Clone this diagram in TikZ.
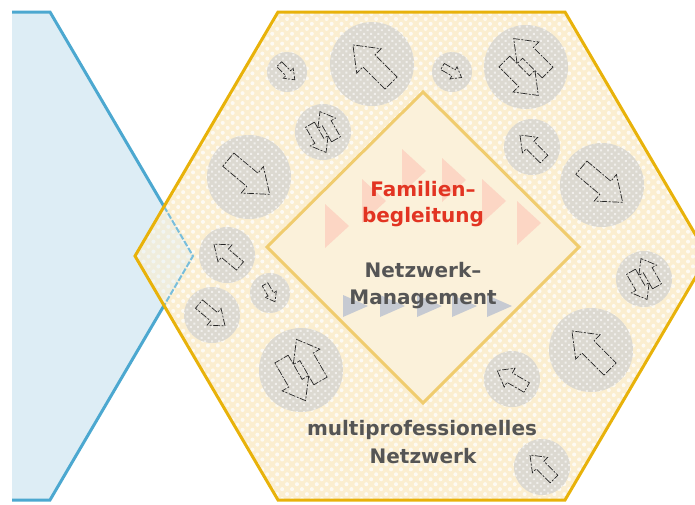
\documentclass[tikz,border=0pt]{standalone}
\usepackage{fontspec}
\setmainfont{DejaVu Sans}
\usetikzlibrary{patterns.meta}

\definecolor{hexgold}{RGB}{232,178,10}
\definecolor{hexcream}{RGB}{251,238,208}
\definecolor{diamcream}{RGB}{251,241,218}
\definecolor{diamgold}{RGB}{240,204,110}
\definecolor{bluefill}{RGB}{221,237,245}
\definecolor{blueline}{RGB}{76,168,208}
\definecolor{bluedash}{RGB}{120,190,220}
\definecolor{spotgrey}{RGB}{220,217,209}
\definecolor{pinktri}{RGB}{252,214,196}
\definecolor{greytri}{RGB}{198,202,210}
\definecolor{famred}{RGB}{226,52,34}
\definecolor{textgrey}{RGB}{85,85,85}

\tikzset{
  hexdots/.style={fill opacity=0.75, pattern={Dots[distance=7pt,radius=2pt,angle=45]}, pattern color=white},
  spotdots/.style={fill opacity=0.6, pattern={Dots[distance=5pt,radius=1.4pt,angle=45]}, pattern color=white},
  spot/.style={fill=spotgrey, postaction={spotdots}},
  arrowline/.style={draw=black!85, line width=0.7pt, dash pattern=on 7pt off 1.5pt on 2pt off 1.5pt},
  label/.style={inner sep=0pt, anchor=base, font=\bfseries\fontsize{20}{24}\selectfont},
  pics/barrow/.style={code={
    \draw[arrowline] (-0.5,-0.16) -- (0.08,-0.16) -- (0.08,-0.32) -- (0.5,0) -- (0.08,0.32) -- (0.08,0.16) -- (-0.5,0.16) -- cycle;
  }},
  pics/swaparrow/.style={code={
    \begin{scope}[shift={(0.08,0.19)},scale=0.8]
      \draw[arrowline] (-0.5,-0.16) -- (0.08,-0.16) -- (0.08,-0.32) -- (0.5,0) -- (0.08,0.32) -- (0.08,0.16) -- (-0.5,0.16) -- cycle;
    \end{scope}
    \begin{scope}[shift={(-0.08,-0.19)},rotate=180,scale=0.8]
      \draw[arrowline] (-0.5,-0.16) -- (0.08,-0.16) -- (0.08,-0.32) -- (0.5,0) -- (0.08,0.32) -- (0.08,0.16) -- (-0.5,0.16) -- cycle;
    \end{scope}
  }},
}

\begin{document}
\begin{tikzpicture}[x=1pt,y=-1pt]
   \useasboundingbox (0,0) rectangle (695,504);
   \clip (0,0) rectangle (695,504);

   % left (blue) hexagon, cut at the margin
   \fill[bluefill] (12,12) -- (50,12) -- (193,256) -- (50,500) -- (12,500) -- cycle;
   \draw[blueline,line width=3pt] (12,12) -- (50,12) -- (164,206.5);
   \draw[blueline,line width=3pt] (164,305.5) -- (50,500) -- (12,500);

   % network hexagon
   \coordinate (hexW) at (135,256);
   \coordinate (hexNW) at (278,12);
   \coordinate (hexNE) at (565,12);
   \coordinate (hexE) at (708,256);
   \coordinate (hexSE) at (565,500);
   \coordinate (hexSW) at (278,500);
   \path[fill=hexcream, postaction={hexdots}] (hexW) -- (hexNW) -- (hexNE) -- (hexE) -- (hexSE) -- (hexSW) -- cycle;

   % overlap with the blue hexagon
   \fill[bluefill,opacity=0.35] (hexW) -- (164,206.5) -- (193,256) -- (164,305.5) -- cycle;
   \draw[bluedash,line width=2pt,dash pattern=on 6pt off 2pt] (164,206.5) -- (193,256) -- (164,305.5);

   \draw[hexgold,line width=3pt,line join=miter] (hexW) -- (hexNW) -- (hexNE) -- (hexE) -- (hexSE) -- (hexSW) -- cycle;

   % partners
   \foreach \cx/\cy/\r in {287/72/20, 372/64/42, 452/72/20, 526/67/42, 323/132/28, 532/147/28,
                          249/177/42, 602/185/42, 227/255/28, 270/293/20, 212/315/28, 644/279/28,
                          301/370/42, 512/379/28, 591/350/42, 542/467/28}
     \path[spot] (\cx,\cy) circle (\r pt);

   \foreach \cx/\cy/\ang/\len in {287/72/-45/22, 372/64/135/54, 452/72/-30/22, 532/147/135/34,
                                  249/177/-40/54, 602/185/-40/54, 227/255/140/34, 270/293/-60/20,
                                  212/315/-40/34, 512/379/150/34, 591/350/135/54, 542/467/135/34}
     \pic[rotate=\ang,scale=\len] at (\cx,\cy) {barrow};

   \foreach \cx/\cy/\ang/\len in {526/67/135/60, 323/132/120/40, 644/279/120/40, 301/370/120/60}
     \pic[rotate=\ang,scale=\len] at (\cx,\cy) {swaparrow};

   % inner diamond
   \draw[diamgold,fill=diamcream,line width=3pt] (423,92) -- (579,247) -- (423,403) -- (267,247) -- cycle;

   \foreach \tx/\ty in {325/226, 362/201, 402/171, 442/180, 482/201, 517/223}
     \fill[pinktri] (\tx,{\ty-22}) -- ({\tx+24},\ty) -- (\tx,{\ty+22}) -- cycle;

   \foreach \tx in {343,380,417,452,487}
     \fill[greytri] (\tx,295) -- ({\tx+25},306) -- (\tx,317) -- cycle;

   \node[label,famred] (famA) at (423,196) {Familien–};
   \node[label,famred] (famB) at (423,222) {begleitung};
   \node[label,textgrey] (netA) at (423,277) {Netzwerk–};
   \node[label,textgrey] (netB) at (423,304) {Management};
   \node[label,textgrey] (multA) at (422,435) {multiprofessionelles};
   \node[label,textgrey] (multB) at (423,463) {Netzwerk};
\end{tikzpicture}
\end{document}
